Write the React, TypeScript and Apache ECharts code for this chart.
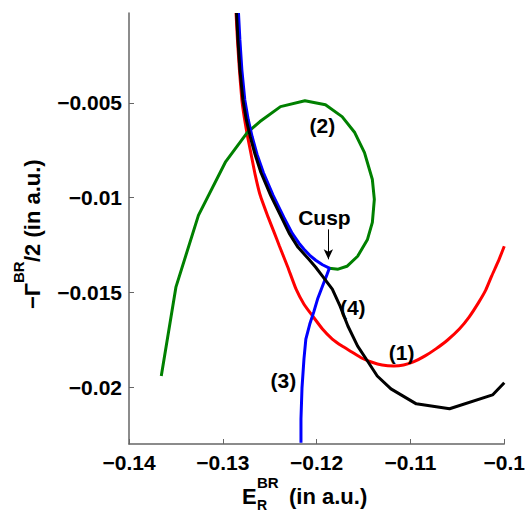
import { useEffect, useRef } from "react";
import * as echarts from "echarts";

const xTicks = [-0.14, -0.13, -0.12, -0.11, -0.1];
const yTicks = [-0.02, -0.015, -0.01, -0.005];

// Curve (1) red
const c1X = [-0.12859, -0.12844, -0.12823, -0.12797, -0.12771, -0.1274, -0.12698, -0.12656, -0.12604, -0.12516, -0.12453, -0.12396, -0.12307, -0.12219, -0.12135, -0.12042, -0.11938, -0.11833, -0.11729, -0.11625, -0.11521, -0.11417, -0.11302, -0.11177, -0.11073, -0.10969, -0.10844, -0.10729, -0.10604, -0.10479, -0.10375, -0.10271, -0.10198, -0.10135, -0.10063, -0.1];
const c1Y = [-0.00025, -0.00167, -0.00325, -0.00483, -0.00577, -0.00667, -0.00772, -0.00877, -0.00983, -0.01104, -0.01183, -0.01256, -0.01367, -0.01483, -0.01562, -0.01625, -0.01693, -0.01746, -0.01783, -0.01814, -0.01846, -0.01867, -0.01883, -0.01888, -0.01883, -0.01867, -0.01835, -0.01798, -0.01751, -0.01693, -0.0163, -0.01551, -0.01488, -0.01414, -0.01335, -0.01256];

// Curve (2) green
const c2X = [-0.13656, -0.135, -0.1326, -0.12969, -0.1274, -0.12604, -0.12385, -0.12125, -0.11906, -0.11729, -0.11594, -0.1149, -0.11406, -0.11385, -0.11406, -0.11458, -0.11563, -0.11677, -0.11771, -0.11865];
const c2Y = [-0.01941, -0.01472, -0.01093, -0.00809, -0.00656, -0.00598, -0.00519, -0.00488, -0.00509, -0.00572, -0.00656, -0.00762, -0.00904, -0.01009, -0.0113, -0.0122, -0.01309, -0.01362, -0.01377, -0.01372];

// Curve (3) blue
const c3X = [-0.12167, -0.12167, -0.12156, -0.12135, -0.12115, -0.12073, -0.12031, -0.1199, -0.11938, -0.11896, -0.11865, -0.11938, -0.1201, -0.12073, -0.12135, -0.12188, -0.1226, -0.12349, -0.12464, -0.12568, -0.12635, -0.12688, -0.12729, -0.12766, -0.12797, -0.12818, -0.12833];
const c3Y = [-0.02293, -0.02167, -0.02004, -0.01851, -0.01746, -0.01667, -0.01604, -0.01535, -0.01467, -0.01414, -0.01372, -0.01354, -0.0133, -0.01304, -0.01272, -0.0124, -0.01188, -0.01104, -0.00988, -0.00867, -0.00772, -0.00677, -0.00588, -0.00483, -0.00325, -0.00167, -0.00025];

// Curve (4) black
const c4X = [-0.12854, -0.12839, -0.12818, -0.12786, -0.1275, -0.12708, -0.12656, -0.12594, -0.1249, -0.12375, -0.12292, -0.12198, -0.12083, -0.1201, -0.11938, -0.11833, -0.1175, -0.11667, -0.11563, -0.11458, -0.11354, -0.11208, -0.10938, -0.10583, -0.10125, -0.1];
const c4Y = [-0.00025, -0.00167, -0.00325, -0.00483, -0.00588, -0.00677, -0.00772, -0.00867, -0.00988, -0.01104, -0.01188, -0.01262, -0.01325, -0.01367, -0.01414, -0.01483, -0.01572, -0.01677, -0.01783, -0.01862, -0.01941, -0.02009, -0.02088, -0.02114, -0.02041, -0.01977];

const labelNames = ["(1)", "(2)", "(3)", "(4)", "Cusp"];
const labelX = [-0.11094, -0.11938, -0.12354, -0.11615, -0.11917];
const labelY = [-0.01817, -0.0062, -0.01967, -0.01577, -0.01104];

const arrowX = [-0.11875, -0.11875];
const arrowY = [-0.01167, -0.01325];

const FONT = '"Liberation Sans", Arial, Helvetica, sans-serif';

const zip = (xs: number[], ys: number[]) => xs.map((x, i) => [x, ys[i]]);
const fmt = (v: number) => String(v).replace("-", "\u2212");

export default function App() {
  const ref = useRef<HTMLDivElement>(null);
  useEffect(() => {
    document.body.style.margin = "0";
    if (!ref.current) return;
    const chart = echarts.init(ref.current, null, { renderer: "svg" });
    const lineSeries = (data: number[][], color: string) => ({
      type: "line",
      data,
      showSymbol: false,
      symbol: "none",
      lineStyle: { color, width: 3 },
      itemStyle: { color },
      silent: true,
      clip: true,
    });
    const txt = (text: string, size: number) => ({
      text,
      fontSize: size,
      fontWeight: "bold",
      fontFamily: FONT,
      fill: "#000",
      align: "left",
      verticalAlign: "middle",
    });
    chart.setOption({
      animation: false,
      textStyle: { fontFamily: FONT },
      grid: { left: 129, right: 15, top: 13, bottom: 69 },
      xAxis: {
        type: "value",
        min: -0.14,
        max: -0.1,
        splitLine: { show: false },
        axisLine: { show: true, lineStyle: { color: "#666", width: 1.5 } },
        axisTick: { show: true, inside: true, length: 5, customValues: xTicks, lineStyle: { color: "#666" } },
        axisLabel: {
          customValues: xTicks,
          formatter: fmt,
          color: "#000",
          fontSize: 21,
          fontWeight: "bold",
          fontFamily: FONT,
          margin: 8,
          showMaxLabel: true,
          showMinLabel: true,
        },
      },
      yAxis: {
        type: "value",
        min: -0.023,
        max: -0.00025,
        splitLine: { show: false },
        axisLine: { show: true, lineStyle: { color: "#666", width: 1.5 } },
        axisTick: { show: true, inside: true, length: 5, customValues: yTicks, lineStyle: { color: "#666" } },
        axisLabel: {
          customValues: yTicks,
          formatter: fmt,
          color: "#000",
          fontSize: 21,
          fontWeight: "bold",
          fontFamily: FONT,
          margin: 7,
        },
      },
      series: [
        { ...lineSeries(zip(c1X, c1Y), "#ff0000"), smooth: 0.15, z: 2 },
        { ...lineSeries(zip(c2X, c2Y), "#008000"), z: 3 },
        { ...lineSeries(zip(c3X, c3Y), "#0000ff"), z: 4 },
        { ...lineSeries(zip(c4X, c4Y), "#000000"), z: 5 },
        {
          type: "scatter",
          z: 6,
          symbolSize: 1,
          itemStyle: { color: "transparent", opacity: 1 },
          silent: true,
          data: labelNames.map((n, i) => ({ name: n, value: [labelX[i], labelY[i]] })),
          label: {
            show: true,
            position: "inside",
            formatter: "{b}",
            color: "#000",
            opacity: 1,
            fontSize: 21,
            fontWeight: "bold",
            fontFamily: FONT,
          },
          markLine: {
            silent: true,
            symbol: ["none", "arrow"],
            symbolSize: [7, 10],
            label: { show: false },
            lineStyle: { color: "#000", width: 1, type: "solid", opacity: 1 },
            data: [[{ coord: [arrowX[0], arrowY[0]] }, { coord: [arrowX[1], arrowY[1]] }]],
          },
        },
      ],
      graphic: [
        {
          type: "group",
          x: 32,
          y: 232,
          rotation: Math.PI / 2,
          children: [
            { type: "text", x: -77, y: 0, style: txt("\u2212\u0393", 22) },
            { type: "text", x: -51, y: -14, style: txt("BR", 15) },
            { type: "text", x: -30, y: 0, style: txt("/2 (in a.u.)", 22) },
          ],
        },
        { type: "text", x: 242, y: 496, style: txt("E", 22) },
        { type: "text", x: 257, y: 482, style: txt("BR", 15) },
        { type: "text", x: 257, y: 505, style: txt("R", 14) },
        { type: "text", x: 289, y: 496, style: txt("(in a.u.)", 22) },
      ],
    });
    return () => chart.dispose();
  }, []);
  return <div ref={ref} style={{ width: 528, height: 513 }} />;
}
